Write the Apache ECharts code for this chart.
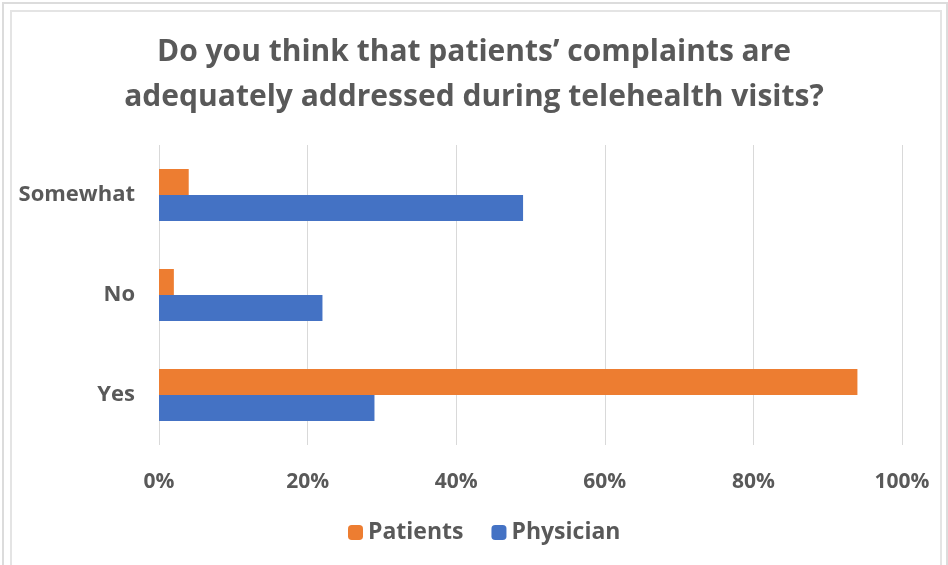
<!DOCTYPE html>
<html>
<head>
<meta charset="utf-8">
<script src="https://cdn.jsdelivr.net/npm/echarts@6/dist/echarts.min.js"></script>
<style>
  html, body { margin: 0; padding: 0; background: #fff; }
  #frame { position: absolute; left: 0; top: 0; width: 948px; height: 565px; overflow: hidden; }
  #outer { position: absolute; left: 2px; top: 2px; width: 942px; height: 570px; border: 2px solid #dcdcdc; border-bottom: none; }
  #inner { position: absolute; left: 10px; top: 10px; width: 928px; height: 570px; border: 2px solid #e4e4e4; border-bottom: none; }
  #chart { position: absolute; left: 0; top: 0; width: 948px; height: 565px; }
</style>
</head>
<body>
<div id="frame">
  <div id="outer"></div>
  <div id="inner"></div>
  <div id="chart"></div>
</div>
<script>
const titleText = "Do you think that patients’ complaints are\nadequately addressed during telehealth visits?";
const categories = ["Yes", "No", "Somewhat"];
const seriesNames = ["Patients", "Physician"];
const patients = [94, 2, 4];
const physician = [29, 22, 49];
const xTicks = [0, 20, 40, 60, 80, 100];

const textColor = "#595959";
const chart = echarts.init(document.getElementById("chart"), null, { renderer: "canvas" });
chart.setOption({
  animation: false,
  backgroundColor: "transparent",
  title: {
    text: titleText,
    left: "center",
    top: 25,
    textStyle: {
      fontFamily: "Open Sans",
      fontWeight: "bold",
      fontSize: 30,
      lineHeight: 45,
      color: textColor
    }
  },
  legend: {
    data: seriesNames,
    top: 516,
    left: 343,
    itemWidth: 15,
    itemHeight: 15,
    itemGap: 28,
    textStyle: { fontFamily: "Open Sans", fontSize: 23, color: textColor, fontWeight: "bold" }
  },
  grid: { left: 159, right: 46, top: 145, bottom: 120, containLabel: false },
  xAxis: {
    type: "value",
    min: xTicks[0],
    max: xTicks[xTicks.length - 1],
    interval: 20,
    axisLine: { show: false },
    axisTick: { show: false },
    splitLine: { lineStyle: { color: "#d9d9d9", width: 1 } },
    axisLabel: {
      formatter: v => v + "%",
      margin: 27,
      fontFamily: "Open Sans",
      fontWeight: "bold",
      fontSize: 21,
      color: textColor
    }
  },
  yAxis: {
    type: "category",
    data: categories,
    axisLine: { show: false },
    axisTick: { show: false },
    axisLabel: {
      margin: 24,
      fontFamily: "Open Sans",
      fontWeight: "bold",
      fontSize: 22,
      color: textColor
    }
  },
  series: [
    {
      name: seriesNames[0],
      type: "bar",
      data: patients,
      barGap: "0%",
      barCategoryGap: "48%",
      itemStyle: { color: "#ED7D31" }
    },
    {
      name: seriesNames[1],
      type: "bar",
      data: physician,
      barGap: "0%",
      barCategoryGap: "48%",
      itemStyle: { color: "#4472C4" }
    }
  ]
});
</script>
</body>
</html>
